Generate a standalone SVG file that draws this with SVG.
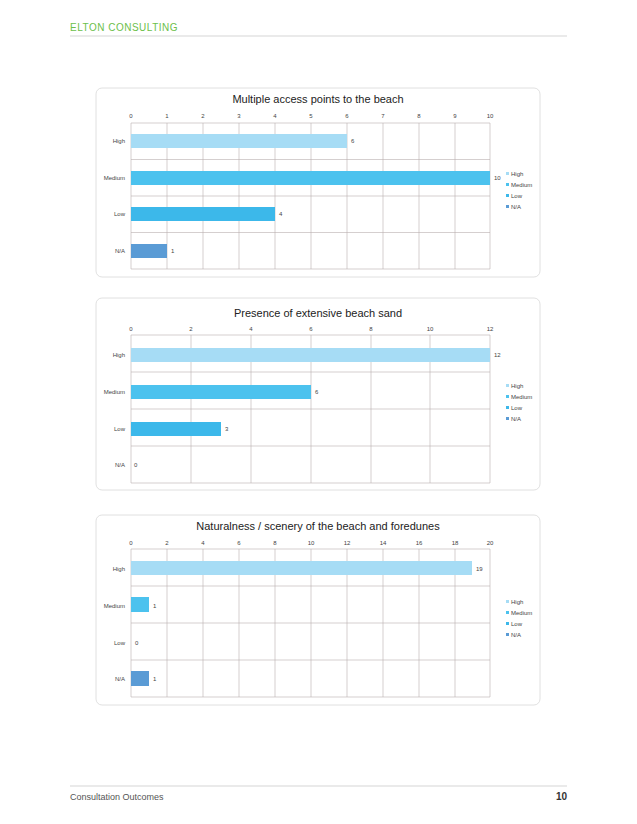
<svg xmlns="http://www.w3.org/2000/svg" width="637" height="824" viewBox="0 0 637 824">
<style>
text{font-family:"Liberation Sans",Arial,sans-serif}
.t{font-size:11px;fill:#222;text-anchor:middle}
.ax{font-size:6px;fill:#444;text-anchor:middle}
.cat{font-size:6px;fill:#444;text-anchor:end}
.v{font-size:6px;fill:#444}
.lg{font-size:6px;fill:#444}
.box{fill:#fff;stroke:#d8d8d8;stroke-width:0.8}
.g{stroke:#b9aeae;stroke-width:0.6;fill:none}
.h{fill:#a6dcf5}.m{fill:#4cc2ee}.l{fill:#3cb8ea}.n{fill:#5a9bd5}
</style>
<rect width="637" height="824" fill="#fff"/>
<text x="70" y="31" font-size="10" fill="#6cc04a" letter-spacing="0.5">ELTON CONSULTING</text>
<line x1="70" y1="36" x2="567" y2="36" stroke="#bbb" stroke-width="0.6"/>

<g id="chart1">
<rect class="box" x="96" y="88" width="444" height="189" rx="6"/>
<text class="t" x="318" y="103">Multiple access points to the beach</text>
<g class="ax"><text x="131" y="118">0</text><text x="167" y="118">1</text><text x="203" y="118">2</text><text x="239" y="118">3</text><text x="275" y="118">4</text><text x="311" y="118">5</text><text x="347" y="118">6</text><text x="383" y="118">7</text><text x="419" y="118">8</text><text x="455" y="118">9</text><text x="490" y="118">10</text></g>
<path class="g" d="M131 123H490V269H131ZM167 123V269M203 123V269M239 123V269M275 123V269M311 123V269M347 123V269M383 123V269M419 123V269M455 123V269M131 159.5H490M131 196H490M131 232.5H490"/>
<rect class="h" x="131" y="134" width="216" height="14"/>
<rect class="m" x="131" y="171" width="359" height="14"/>
<rect class="l" x="131" y="207" width="144" height="14"/>
<rect class="n" x="131" y="244" width="36" height="14"/>
<g class="cat"><text x="125" y="143">High</text><text x="125" y="180">Medium</text><text x="125" y="216">Low</text><text x="125" y="253">N/A</text></g>
<g class="v"><text x="351" y="143">6</text><text x="494" y="180">10</text><text x="279" y="216">4</text><text x="171" y="253">1</text></g>
<g class="lg"><rect class="h" x="506" y="172" width="3" height="3"/><text x="511" y="176">High</text><rect class="m" x="506" y="183" width="3" height="3"/><text x="511" y="187">Medium</text><rect class="l" x="506" y="194" width="3" height="3"/><text x="511" y="198">Low</text><rect class="n" x="506" y="205" width="3" height="3"/><text x="511" y="209">N/A</text></g>
</g>

<g id="chart2">
<rect class="box" x="96" y="298" width="444" height="192" rx="6"/>
<text class="t" x="318" y="317">Presence of extensive beach sand</text>
<g class="ax"><text x="131" y="331">0</text><text x="191" y="331">2</text><text x="251" y="331">4</text><text x="311" y="331">6</text><text x="371" y="331">8</text><text x="430" y="331">10</text><text x="490" y="331">12</text></g>
<path class="g" d="M131 335H490V483H131ZM191 335V483M251 335V483M311 335V483M371 335V483M430 335V483M131 372H490M131 409H490M131 446H490"/>
<rect class="h" x="131" y="348" width="359" height="14"/>
<rect class="m" x="131" y="385" width="180" height="14"/>
<rect class="l" x="131" y="422" width="90" height="14"/>
<g class="cat"><text x="125" y="357">High</text><text x="125" y="394">Medium</text><text x="125" y="431">Low</text><text x="125" y="467">N/A</text></g>
<g class="v"><text x="494" y="357">12</text><text x="315" y="394">6</text><text x="225" y="431">3</text><text x="134" y="467">0</text></g>
<g class="lg"><rect class="h" x="506" y="384" width="3" height="3"/><text x="511" y="388">High</text><rect class="m" x="506" y="395" width="3" height="3"/><text x="511" y="399">Medium</text><rect class="l" x="506" y="406" width="3" height="3"/><text x="511" y="410">Low</text><rect class="n" x="506" y="417" width="3" height="3"/><text x="511" y="421">N/A</text></g>
</g>

<g id="chart3">
<rect class="box" x="96" y="515" width="444" height="190" rx="6"/>
<text class="t" x="318" y="530">Naturalness  / scenery of the beach and foredunes</text>
<g class="ax"><text x="131" y="545">0</text><text x="167" y="545">2</text><text x="203" y="545">4</text><text x="239" y="545">6</text><text x="275" y="545">8</text><text x="311" y="545">10</text><text x="347" y="545">12</text><text x="383" y="545">14</text><text x="419" y="545">16</text><text x="455" y="545">18</text><text x="490" y="545">20</text></g>
<path class="g" d="M131 549H490V697H131ZM167 549V697M203 549V697M239 549V697M275 549V697M311 549V697M347 549V697M383 549V697M419 549V697M455 549V697M131 586H490M131 623H490M131 660H490"/>
<rect class="h" x="131" y="561" width="341" height="14"/>
<rect class="m" x="131" y="597" width="18" height="15"/>
<rect class="n" x="131" y="671" width="18" height="15"/>
<g class="cat"><text x="125" y="571">High</text><text x="125" y="608">Medium</text><text x="125" y="645">Low</text><text x="125" y="681">N/A</text></g>
<g class="v"><text x="476" y="571">19</text><text x="153" y="608">1</text><text x="135" y="645">0</text><text x="153" y="681">1</text></g>
<g class="lg"><rect class="h" x="506" y="600" width="3" height="3"/><text x="511" y="604">High</text><rect class="m" x="506" y="611" width="3" height="3"/><text x="511" y="615">Medium</text><rect class="l" x="506" y="622" width="3" height="3"/><text x="511" y="626">Low</text><rect class="n" x="506" y="633" width="3" height="3"/><text x="511" y="637">N/A</text></g>
</g>

<line x1="70" y1="786" x2="567" y2="786" stroke="#bbb" stroke-width="0.6"/>
<text x="70" y="800" font-size="9" fill="#555">Consultation Outcomes</text>
<text x="567" y="800" font-size="10" font-weight="bold" fill="#333" text-anchor="end">10</text>
</svg>
